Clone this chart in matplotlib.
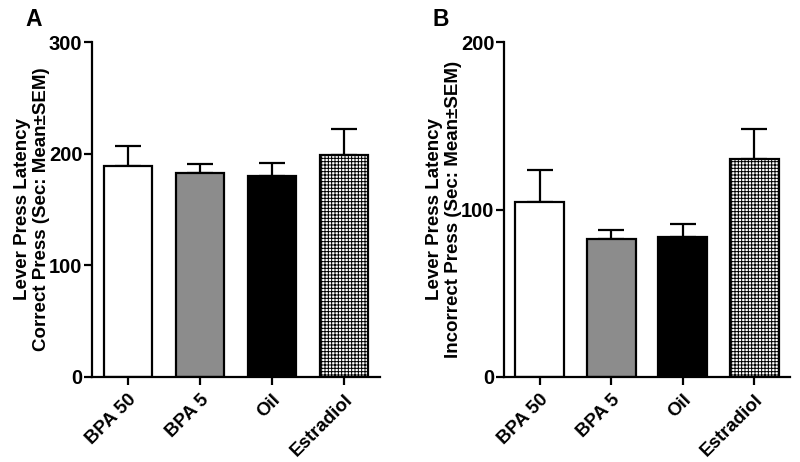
import matplotlib
matplotlib.use("Agg")
import matplotlib.pyplot as plt
import numpy as np

plt.rcParams['font.family'] = ['Liberation Sans', 'DejaVu Sans']
plt.rcParams['font.weight'] = 'bold'
plt.rcParams['hatch.linewidth'] = 0.7

# data
groups = ["BPA 50", "BPA 5", "Oil", "Estradiol"]
correct_mean = [189, 183, 180, 199]
correct_sem = [18, 8, 12, 23]
incorrect_mean = [104.6, 82.2, 83.3, 129.9]
incorrect_sem = [19, 5.5, 7.8, 18]

colors = ["white", "#8c8c8c", "black", "white"]
hatches = [None, None, None, "+++++"]


def panel(ax, means, sems, ymax, yticks, ylabel):
    x = np.arange(len(groups))
    bars = ax.bar(x, means, width=0.68, color=colors, edgecolor="black",
                  linewidth=1.6, zorder=2)
    for b, h in zip(bars, hatches):
        if h:
            b.set_hatch(h)
    ax.errorbar(x, means, yerr=[np.zeros(len(sems)), sems], fmt="none",
                ecolor="black", elinewidth=1.6, capsize=9.4, capthick=1.6,
                zorder=1)
    ax.set_xlim(-0.5, 3.5)
    ax.set_ylim(0, ymax)
    ax.set_yticks(yticks)
    ax.set_xticks(x)
    ax.set_xticklabels(groups, rotation=45, ha="right", rotation_mode="anchor",
                       fontsize=13.5, fontweight="bold")
    ax.tick_params(axis="y", labelsize=14.5, width=1.6, length=6, pad=1)
    ax.tick_params(axis="x", width=1.6, length=6, pad=4)
    for s in ["top", "right"]:
        ax.spines[s].set_visible(False)
    for s in ["left", "bottom"]:
        ax.spines[s].set_linewidth(1.6)
    ax.set_ylabel(ylabel, fontsize=13.5, fontweight="bold", labelpad=-1)


fig = plt.figure(figsize=(8, 4.62), dpi=100)
ax1 = fig.add_axes([0.115, 0.184, 0.36, 0.725])
ax2 = fig.add_axes([0.630, 0.184, 0.3575, 0.725])

panel(ax1, correct_mean, correct_sem, 300, [0, 100, 200, 300],
      "Lever Press Latency\nCorrect Press (Sec: Mean\u00b1SEM)")
panel(ax2, incorrect_mean, incorrect_sem, 200, [0, 100, 200],
      "Lever Press Latency\nIncorrect Press (Sec: Mean\u00b1SEM)")

fig.text(25 / 800, 1 - 8 / 462, "A", fontsize=16.5, fontweight="bold",
         va="top", ha="left")
fig.text(432 / 800, 1 - 8 / 462, "B", fontsize=16.5, fontweight="bold",
         va="top", ha="left")

fig.savefig("out.png", dpi=100)
